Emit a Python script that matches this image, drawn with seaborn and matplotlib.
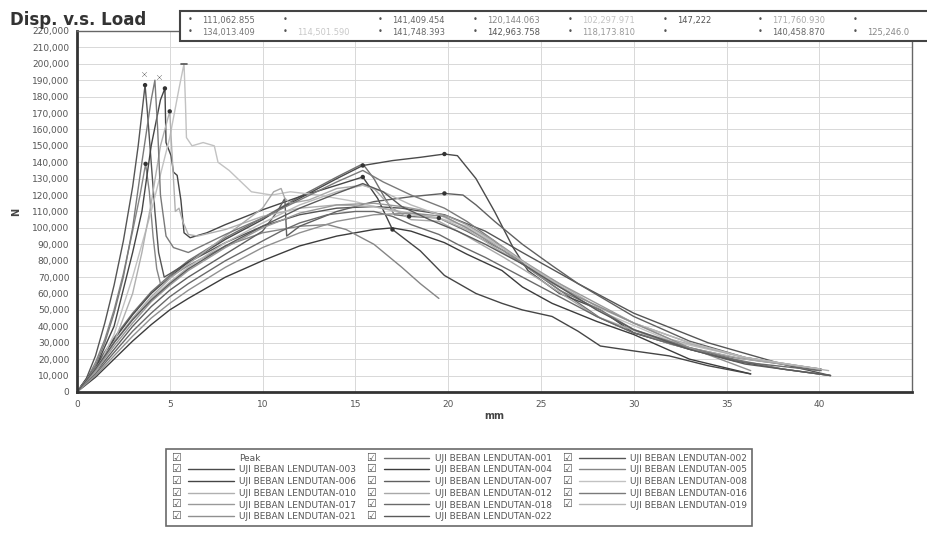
import numpy as np
import pandas as pd
import matplotlib
matplotlib.use("Agg")
import matplotlib.pyplot as plt
import seaborn as sns
from matplotlib.lines import Line2D
from matplotlib.patches import Rectangle
from matplotlib.legend_handler import HandlerLine2D
from matplotlib.text import Text
from matplotlib.ticker import FuncFormatter, MultipleLocator

# load vs displacement, x in mm, y in thousands of N
x_003 = [0, 1, 2, 3, 4, 5, 6, 8, 10, 11, 12, 13, 14, 15.4, 17, 18.5, 19.8, 20.5, 21.5, 22.5, 23.5, 24.3, 26, 28.2, 30, 33, 35.4, 38, 40.6]
y_003 = [0, 15, 32, 47, 60, 70, 79, 93, 105, 112, 118, 124, 130, 138, 141, 143, 145, 144, 130, 110, 88, 74, 60, 50, 36, 26, 19, 14, 10]

x_001 = [0, 1, 2, 3, 4, 5, 6, 8, 10, 12, 14, 15.4, 16, 16.6, 17.1, 17.9, 19.5, 21, 23, 25, 28.2, 30, 33, 35.4, 38, 40.1]
y_001 = [0, 16, 33, 48, 61, 71, 80, 94, 106, 119, 131, 139, 130, 118, 108, 107, 106, 98, 86, 70, 45, 36, 27, 21, 17, 14]

x_006 = [0, 1, 2, 3, 3.5, 4, 4.5, 4.74, 4.8, 5.07, 5.2, 5.4, 5.6, 5.77, 6.1, 7, 8, 10, 12, 14, 15.4, 16.2, 17, 18.5, 19.8, 21.5, 22.9, 24, 25.6, 27, 28.2, 30, 31.9, 34, 36.3]
y_006 = [0, 15, 40, 85, 110, 150, 178, 185, 152, 144, 134, 132, 117, 97, 94, 97, 102, 111, 119, 126, 131, 118, 99, 86, 71, 60, 54, 50, 46, 37, 28, 25, 22, 16, 11]

x_010 = [0, 1, 2, 3, 3.5, 4, 4.5, 5.0, 5.1, 5.2, 5.3, 5.5, 5.7, 6.0, 6.5, 8, 10, 12, 14, 16, 17.9, 19.5, 21, 22.5, 24, 26, 28, 32, 36, 40.5]
y_010 = [0, 12, 30, 60, 85, 115, 150, 171, 150, 130, 110, 112, 104, 96, 95, 99, 107, 112, 114, 113, 109, 106, 99, 88, 78, 66, 52, 32, 21, 13]

x_007 = [0, 1, 2, 3, 4, 5, 6, 8, 10, 10.8, 11.2, 11.3, 12, 14, 16, 18, 19.8, 20.8, 21.5, 22.5, 24, 25.6, 27, 30, 33, 36, 40]
y_007 = [0, 12, 26, 40, 52, 62, 70, 84, 98, 110, 118, 95, 101, 110, 116, 119, 121, 120, 114, 104, 90, 77, 66, 46, 31, 21, 13]

x_012 = [0, 1, 2, 3, 4, 5, 6, 8, 10, 10.6, 11.0, 11.2, 11.5, 12.5, 14, 15.4, 16, 17, 18, 19.5, 21, 23, 25, 28, 32, 36, 40]
y_012 = [0, 14, 30, 45, 58, 69, 78, 95, 112, 122, 124, 118, 115, 117, 124, 126, 124, 112, 105, 104, 95, 82, 68, 46, 29, 20, 14]

x_004 = [0, 1, 2, 3, 4, 5, 6, 8, 10, 12, 14, 16, 17, 18, 19.8, 21, 22.9, 24, 25.6, 28, 30, 33, 36.3]
y_004 = [0, 9, 20, 31, 41, 50, 57, 70, 80, 89, 95, 99, 100, 98, 91, 84, 74, 64, 54, 43, 35, 20, 11]

x_005 = [0, 0.5, 1, 1.5, 2, 2.5, 3, 3.4, 3.7, 3.9, 4.1, 4.3, 4.5, 5, 6, 8, 10, 12, 13.5, 14.5, 16, 17.5, 18.5, 19.5]
y_005 = [0, 7, 18, 32, 50, 72, 98, 120, 139, 122, 95, 75, 66, 70, 77, 89, 97, 101, 102, 99, 90, 76, 66, 57]

x_002 = [0, 0.5, 1, 1.5, 2, 2.5, 3, 3.3, 3.67, 3.8, 4.0, 4.2, 4.4, 4.7, 5, 6, 8, 10, 12, 14, 16, 17.5, 19.8, 22, 24, 27, 30, 34, 38, 40.6]
y_002 = [0, 8, 22, 42, 65, 92, 125, 150, 187, 170, 140, 110, 85, 70, 72, 79, 91, 101, 108, 112, 113, 112, 108, 98, 85, 66, 48, 30, 17, 10]

x_008 = [0, 1, 2, 3, 4, 5, 5.5, 5.77, 5.85, 5.9, 6.2, 6.8, 7.4, 7.6, 8.2, 9.4, 10.5, 11.5, 13, 15, 16, 17.9, 19.5, 21, 23, 25, 28, 32, 36, 40]
y_008 = [0, 12, 35, 70, 110, 155, 185, 200, 175, 155, 150, 152, 150, 140, 135, 122, 120, 122, 120, 116, 113, 108, 106, 101, 88, 72, 50, 31, 21, 14]

x_016 = [0, 0.5, 1, 1.5, 2, 2.5, 3, 3.5, 4, 4.2, 4.35, 4.5, 4.8, 5.2, 6, 8, 10, 12, 14, 15.4, 16.5, 18, 19.8, 21, 22.5, 24.3, 26, 28.2, 30, 33, 35.4, 38, 40.6]
y_016 = [0, 6, 16, 30, 48, 70, 100, 140, 178, 190, 160, 120, 95, 88, 85, 96, 106, 117, 128, 135, 128, 120, 112, 104, 92, 76, 62, 50, 38, 27, 20, 14, 10]

x_017 = [0, 1, 2, 3, 4, 5, 6, 8, 10, 12, 14, 16, 17.5, 19, 20, 21, 22.5, 24, 26, 28, 30, 33, 36, 40]
y_017 = [0, 13, 28, 42, 55, 65, 74, 88, 100, 109, 114, 115, 113, 110, 107, 102, 92, 80, 66, 54, 42, 30, 21, 14]

x_018 = [0, 1, 2, 3, 4, 5, 6, 8, 10, 11, 12, 13.5, 15, 16, 17, 18, 19.5, 20.5, 22, 24, 26, 28, 30, 33, 36, 40.1]
y_018 = [0, 11, 24, 37, 48, 58, 66, 80, 92, 98, 103, 108, 110, 110, 107, 102, 96, 90, 82, 70, 58, 46, 36, 26, 18, 13]

x_019 = [0, 1, 2, 3, 4, 5, 6, 8, 10, 12, 14, 15.4, 16.5, 18, 19.5, 21, 22.9, 25, 27, 30, 33, 36, 40]
y_019 = [0, 14, 30, 44, 57, 67, 76, 91, 103, 114, 122, 126, 122, 114, 108, 100, 88, 72, 58, 42, 30, 21, 14]

x_021 = [0, 1, 2, 3, 4, 5, 6, 8, 10, 12, 14, 16, 18, 19.8, 21, 23, 25, 27, 30, 33, 36.3]
y_021 = [0, 10, 22, 34, 45, 54, 62, 76, 88, 97, 104, 108, 109, 107, 100, 86, 70, 58, 42, 27, 13]

x_022 = [0, 1, 2, 3, 4, 5, 6, 8, 10, 12, 14, 15.4, 16.5, 17.5, 19, 20.5, 22, 24, 26, 28, 30, 33, 36, 40.6]
y_022 = [0, 14, 30, 44, 56, 66, 75, 89, 101, 112, 121, 127, 122, 113, 105, 98, 90, 78, 64, 50, 38, 26, 17, 10]

# peak markers
peak_x = [3.67, 4.74, 5.0, 3.7, 15.4, 15.4, 19.8, 19.8, 17.0, 17.9, 19.5]
peak_y = [187, 185, 171, 139, 138, 131, 145, 121, 99, 107, 106]
mark_x = [3.62, 4.42]
mark_y = [194, 192]

series_names = ["001", "002", "003", "004", "005", "006", "007", "008",
                "010", "012", "016", "017", "018", "019", "021", "022"]
series_x = [x_001, x_002, x_003, x_004, x_005, x_006, x_007, x_008,
            x_010, x_012, x_016, x_017, x_018, x_019, x_021, x_022]
series_y = [y_001, y_002, y_003, y_004, y_005, y_006, y_007, y_008,
            y_010, y_012, y_016, y_017, y_018, y_019, y_021, y_022]
series_grey = ["#707070", "#555555", "#4a4a4a", "#3c3c3c", "#858585", "#454545", "#606060", "#c2c2c2",
               "#b0b0b0", "#a8a8a8", "#7a7a7a", "#999999", "#6a6a6a", "#b8b8b8", "#909090", "#5a5a5a"]

# top box: peak values
box_row1 = ["111,062.855", "", "141,409.454", "120,144.063", "102,297.971", "147,222", "171,760.930", ""]
box_row2 = ["134,013.409", "114,501.590", "141,748.393", "142,963.758", "118,173.810", "", "140,458.870", "125,246.0"]
box_grey1 = ["#666", "#666", "#666", "#888", "#c4c4c4", "#555", "#aaa", "#666"]
box_grey2 = ["#777", "#c8c8c8", "#666", "#555", "#999", "#ccc", "#666", "#888"]

rows = []
for name, xs, ys in zip(series_names, series_x, series_y):
    for i, (a, b) in enumerate(zip(xs, ys)):
        rows.append({"series": "UJI BEBAN LENDUTAN-" + name, "order": i, "mm": a, "N": b * 1000})
df = pd.DataFrame(rows)
palette = {"UJI BEBAN LENDUTAN-" + n: c for n, c in zip(series_names, series_grey)}

sns.set_style("white")
plt.rcParams["font.family"] = ["DejaVu Sans"]

fig = plt.figure(figsize=(9.27, 5.34), dpi=100)
ax = fig.add_axes([0.083, 0.266, 0.901, 0.676])

ax.yaxis.set_major_locator(MultipleLocator(10000))
ax.xaxis.set_major_locator(MultipleLocator(5))
ax.grid(True, color="#d8d8d8", lw=0.7)
ax.set_axisbelow(True)

sns.lineplot(data=df, x="mm", y="N", hue="series", units="series", estimator=None,
             sort=False, palette=palette, lw=1.0, legend=False, ax=ax)
sns.scatterplot(x=np.array(peak_x), y=np.array(peak_y) * 1000, color="#333333", s=10,
                edgecolor="none", ax=ax, zorder=5)
sns.scatterplot(x=np.array(mark_x), y=np.array(mark_y) * 1000, color="#555555", s=12,
                marker="x", ax=ax, zorder=5)
ax.plot([5.6, 5.95], [200000, 200000], color="#555555", lw=1.2)

ax.set_xlim(0, 45)
ax.set_ylim(0, 220000)
ax.set_xticks(range(0, 45, 5))
ax.yaxis.set_major_formatter(FuncFormatter(lambda v, p: "0" if v == 0 else f"{v:,.0f}"))
ax.tick_params(axis="both", labelsize=6.5, colors="#555555", length=2)
for s in ["left", "bottom"]:
    ax.spines[s].set_color("#333333")
    ax.spines[s].set_linewidth(2.0)
for s in ["top", "right"]:
    ax.spines[s].set_color("#666666")
    ax.spines[s].set_linewidth(1.0)
ax.set_xlabel("mm", fontsize=7, fontweight="bold", color="#444444", labelpad=2)
ax.set_ylabel("N", fontsize=7, fontweight="bold", color="#444444", labelpad=8)

fig.text(0.011, 0.962, "Disp. v.s. Load", fontsize=12, fontweight="bold", color="#333333", va="center")

# peak value box at the top
fig.add_artist(Rectangle((180 / 927, 1 - 41 / 534), 760 / 927, 30 / 534, transform=fig.transFigure,
                         facecolor="white", edgecolor="#444444", lw=1.5, zorder=10))
for r, (vals, greys) in enumerate([(box_row1, box_grey1), (box_row2, box_grey2)]):
    yy = 1 - (20 + 12 * r) / 534
    for k, (v, g) in enumerate(zip(vals, greys)):
        xx = (188 + 95 * k) / 927
        fig.text(xx, yy, "\u2022", fontsize=6, color="#555555", va="center", zorder=11)
        fig.text(xx + 14 / 927, yy, v, fontsize=6, color=g, va="center", zorder=11)


class CheckLine(HandlerLine2D):
    def create_artists(self, legend, orig_handle, xdescent, ydescent, width, height, fontsize, trans):
        w0 = width * 0.28
        arts = super().create_artists(legend, orig_handle, xdescent - w0, ydescent,
                                      width - w0, height, fontsize, trans)
        box = Text(-xdescent, height / 2 - ydescent, "\u2611", fontsize=fontsize * 1.2,
                   va="center", ha="left", color="#555555", transform=trans)
        return list(arts) + [box]


handles = {"Peak": Line2D([], [], color="white", lw=0)}
for n, c in zip(series_names, series_grey):
    handles["UJI BEBAN LENDUTAN-" + n] = Line2D([], [], color=c, lw=1.0)
row_major = ["Peak"] + ["UJI BEBAN LENDUTAN-" + n for n in series_names]
# legend is filled row by row in the original; matplotlib fills columns
col_order = row_major[0::3] + row_major[1::3] + row_major[2::3]
leg = fig.legend([handles[l] for l in col_order], col_order, ncol=3, loc="center",
                 bbox_to_anchor=(0.495, 0.087), fontsize=6.5, frameon=True, fancybox=False,
                 edgecolor="#444444", handlelength=7, handletextpad=0.6, columnspacing=1.1,
                 labelspacing=0.3, borderpad=0.5, handler_map={Line2D: CheckLine()})
leg.get_frame().set_linewidth(1.2)
for t in leg.get_texts():
    t.set_color("#555555")

fig.savefig("out.png", dpi=100)
